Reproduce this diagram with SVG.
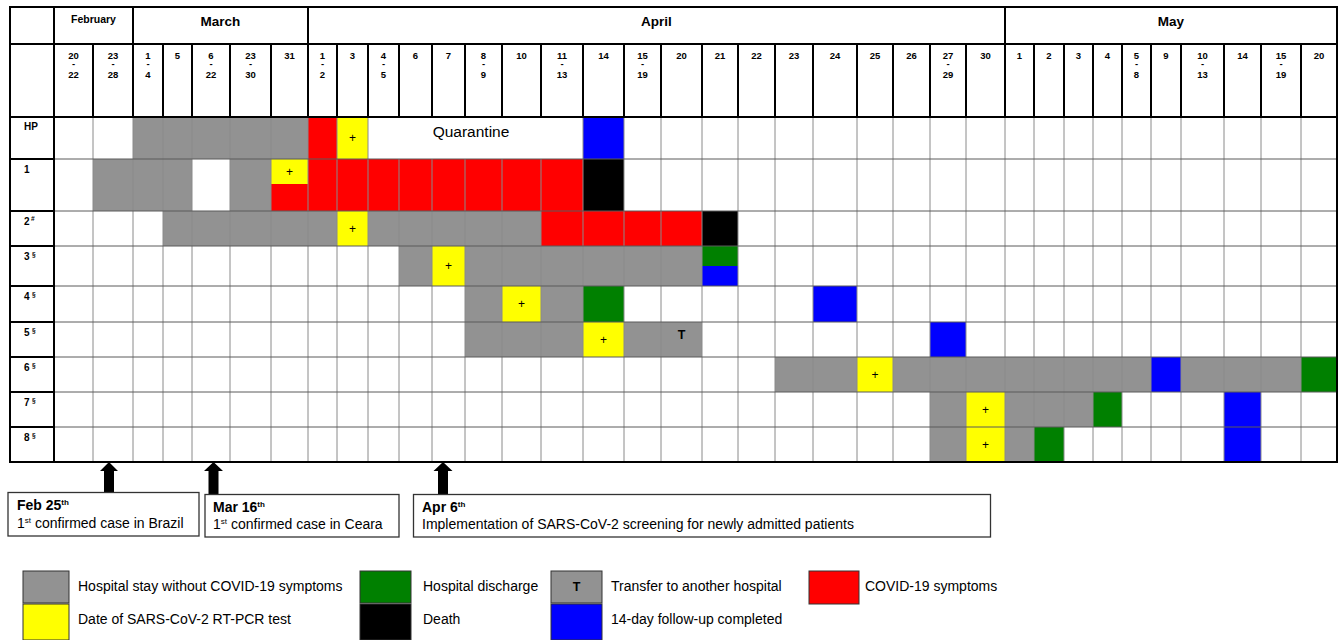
<svg xmlns="http://www.w3.org/2000/svg" width="1339" height="640" viewBox="0 0 1339 640">
<style>
text{font-family:'Liberation Sans',Arial,Helvetica,sans-serif;fill:#000}
.bd{font-weight:bold}
.mo{font-size:13.5px;text-anchor:middle;font-weight:bold}
.dt{font-size:9.5px;text-anchor:middle;font-weight:bold}
.rl{font-size:10px;font-weight:bold}
.sp{font-size:6.5px;font-weight:bold}
.pl{font-size:12px;text-anchor:middle}
.g{fill:#929292}.r{fill:#ff0000}.y{fill:#ffff00}.b{fill:#0000ff}.gr{fill:#008000}.k{fill:#000}
.vl{stroke:#8a8a8a;stroke-width:1;fill:none}
.hl{stroke:#5a5a5a;stroke-width:1;fill:none}
.tk{stroke:#000;stroke-width:2;fill:none}
.lg{font-size:14px}
.tb{font-size:14px;font-weight:bold}
.tn{font-size:14px}
.su{font-size:8px}
.bx{fill:#fff;stroke:#333;stroke-width:1.3}
.sw{stroke:#333;stroke-width:1}
.ar{fill:#000}
</style>
<rect x="0" y="0" width="1339" height="640" fill="#fff"/>

<g id="cells">
  <g id="row-HP">
    <rect class="g" x="133" y="117" width="175" height="42"/>
    <rect class="r" x="308" y="117" width="29" height="42"/>
    <rect class="y" x="337" y="117" width="31" height="42"/>
    <rect class="b" x="583" y="117" width="41" height="42"/>
  </g>
  <g id="row-1">
    <rect class="g" x="93" y="159" width="99" height="52"/>
    <rect class="g" x="230" y="159" width="41" height="52"/>
    <rect class="y" x="271" y="159" width="37" height="25"/>
    <rect class="r" x="271" y="184" width="37" height="27"/>
    <rect class="r" x="308" y="159" width="275" height="52"/>
    <rect class="k" x="583" y="159" width="41" height="52"/>
  </g>
  <g id="row-2">
    <rect class="g" x="163" y="211" width="174" height="35"/>
    <rect class="y" x="337" y="211" width="31" height="35"/>
    <rect class="g" x="368" y="211" width="173" height="35"/>
    <rect class="r" x="541" y="211" width="161" height="35"/>
    <rect class="k" x="702" y="211" width="36" height="35"/>
  </g>
  <g id="row-3">
    <rect class="g" x="399" y="246" width="33" height="40"/>
    <rect class="y" x="432" y="246" width="33" height="40"/>
    <rect class="g" x="465" y="246" width="237" height="40"/>
    <rect class="gr" x="702" y="246" width="36" height="20"/>
    <rect class="b" x="702" y="266" width="36" height="20"/>
  </g>
  <g id="row-4">
    <rect class="g" x="465" y="286" width="37" height="36"/>
    <rect class="y" x="502" y="286" width="39" height="36"/>
    <rect class="g" x="541" y="286" width="42" height="36"/>
    <rect class="gr" x="583" y="286" width="41" height="36"/>
    <rect class="b" x="813" y="286" width="44" height="36"/>
  </g>
  <g id="row-5">
    <rect class="g" x="465" y="322" width="118" height="35"/>
    <rect class="y" x="583" y="322" width="41" height="35"/>
    <rect class="g" x="624" y="322" width="78" height="35"/>
    <rect class="b" x="930" y="322" width="36" height="35"/>
  </g>
  <g id="row-6">
    <rect class="g" x="775" y="357" width="82" height="35"/>
    <rect class="y" x="857" y="357" width="36" height="35"/>
    <rect class="g" x="893" y="357" width="258" height="35"/>
    <rect class="b" x="1151" y="357" width="30" height="35"/>
    <rect class="g" x="1181" y="357" width="120" height="35"/>
    <rect class="gr" x="1301" y="357" width="36" height="35"/>
  </g>
  <g id="row-7">
    <rect class="g" x="930" y="392" width="36" height="35"/>
    <rect class="y" x="966" y="392" width="39" height="35"/>
    <rect class="g" x="1005" y="392" width="88" height="35"/>
    <rect class="gr" x="1093" y="392" width="29" height="35"/>
    <rect class="b" x="1224" y="392" width="37" height="35"/>
  </g>
  <g id="row-8">
    <rect class="g" x="930" y="427" width="36" height="35"/>
    <rect class="y" x="966" y="427" width="39" height="35"/>
    <rect class="g" x="1005" y="427" width="29" height="35"/>
    <rect class="gr" x="1034" y="427" width="30" height="35"/>
    <rect class="b" x="1224" y="427" width="37" height="35"/>
  </g>
</g>

<g id="grid">
  <path class="vl" d="M93 117V462M133 117V462M163 117V462M192 117V462M230 117V462M271 117V462M308 117V462M337 117V462M368 117V462M399 159V462M432 159V462M465 159V462M502 159V462M541 159V462M583 117V462M624 117V462M661 117V462M702 117V462M738 117V462M775 117V462M813 117V462M857 117V462M893 117V462M930 117V462M966 117V462M1005 117V462M1034 117V462M1064 117V462M1093 117V462M1122 117V462M1151 117V462M1181 117V462M1224 117V462M1261 117V462M1301 117V462"/>
  <path class="hl" d="M54 159H1337M54 211H1337M54 246H1337M54 286H1337M54 322H1337M54 357H1337M54 392H1337M54 427H1337"/>
  <path class="tk" d="M10 159H54M10 211H54M10 246H54M10 286H54M10 322H54M10 357H54M10 392H54M10 427H54"/>
  <path class="tk" d="M10 44H1337M10 117H1337M54 7V462M133 7V44M308 7V44M1005 7V44"/>
  <path class="tk" d="M93 44V117M133 44V117M163 44V117M192 44V117M230 44V117M271 44V117M308 44V117M337 44V117M368 44V117M399 44V117M432 44V117M465 44V117M502 44V117M541 44V117M583 44V117M624 44V117M661 44V117M702 44V117M738 44V117M775 44V117M813 44V117M857 44V117M893 44V117M930 44V117M966 44V117M1005 44V117M1034 44V117M1064 44V117M1093 44V117M1122 44V117M1151 44V117M1181 44V117M1224 44V117M1261 44V117M1301 44V117"/>
  <rect class="tk" x="10" y="7" width="1327" height="455"/>
</g>

<g id="months">
  <text class="bd" x="93.5" y="22.5" font-size="10.5" text-anchor="middle">February</text>
  <text class="mo" x="220.5" y="26">March</text>
  <text class="mo" x="656.5" y="26">April</text>
  <text class="mo" x="1171" y="26">May</text>
</g>

<g id="dates">
  <text class="dt" x="73.5" y="58.5">20<tspan x="73.5" y="67">-</tspan><tspan x="73.5" y="77.5">22</tspan></text>
  <text class="dt" x="113" y="58.5">23<tspan x="113" y="67">-</tspan><tspan x="113" y="77.5">28</tspan></text>
  <text class="dt" x="148" y="58.5">1<tspan x="148" y="67">-</tspan><tspan x="148" y="77.5">4</tspan></text>
  <text class="dt" x="177.5" y="58.5">5</text>
  <text class="dt" x="211" y="58.5">6<tspan x="211" y="67">-</tspan><tspan x="211" y="77.5">22</tspan></text>
  <text class="dt" x="250.5" y="58.5">23<tspan x="250.5" y="67">-</tspan><tspan x="250.5" y="77.5">30</tspan></text>
  <text class="dt" x="289.5" y="58.5">31</text>
  <text class="dt" x="322.5" y="58.5">1<tspan x="322.5" y="67">-</tspan><tspan x="322.5" y="77.5">2</tspan></text>
  <text class="dt" x="352.5" y="58.5">3</text>
  <text class="dt" x="383.5" y="58.5">4<tspan x="383.5" y="67">-</tspan><tspan x="383.5" y="77.5">5</tspan></text>
  <text class="dt" x="415.5" y="58.5">6</text>
  <text class="dt" x="448.5" y="58.5">7</text>
  <text class="dt" x="483.5" y="58.5">8<tspan x="483.5" y="67">-</tspan><tspan x="483.5" y="77.5">9</tspan></text>
  <text class="dt" x="521.5" y="58.5">10</text>
  <text class="dt" x="562" y="58.5">11<tspan x="562" y="67">-</tspan><tspan x="562" y="77.5">13</tspan></text>
  <text class="dt" x="603.5" y="58.5">14</text>
  <text class="dt" x="642.5" y="58.5">15<tspan x="642.5" y="67">-</tspan><tspan x="642.5" y="77.5">19</tspan></text>
  <text class="dt" x="681.5" y="58.5">20</text>
  <text class="dt" x="720" y="58.5">21</text>
  <text class="dt" x="756.5" y="58.5">22</text>
  <text class="dt" x="794" y="58.5">23</text>
  <text class="dt" x="835" y="58.5">24</text>
  <text class="dt" x="875" y="58.5">25</text>
  <text class="dt" x="911.5" y="58.5">26</text>
  <text class="dt" x="948" y="58.5">27<tspan x="948" y="67">-</tspan><tspan x="948" y="77.5">29</tspan></text>
  <text class="dt" x="985.5" y="58.5">30</text>
  <text class="dt" x="1019.5" y="58.5">1</text>
  <text class="dt" x="1049" y="58.5">2</text>
  <text class="dt" x="1078.5" y="58.5">3</text>
  <text class="dt" x="1107.5" y="58.5">4</text>
  <text class="dt" x="1136.5" y="58.5">5<tspan x="1136.5" y="67">-</tspan><tspan x="1136.5" y="77.5">8</tspan></text>
  <text class="dt" x="1166" y="58.5">9</text>
  <text class="dt" x="1202.5" y="58.5">10<tspan x="1202.5" y="67">-</tspan><tspan x="1202.5" y="77.5">13</tspan></text>
  <text class="dt" x="1242.5" y="58.5">14</text>
  <text class="dt" x="1281" y="58.5">15<tspan x="1281" y="67">-</tspan><tspan x="1281" y="77.5">19</tspan></text>
  <text class="dt" x="1319" y="58.5">20</text>
</g>

<g id="row-labels">
  <text class="rl" x="24" y="130">HP</text>
  <text class="rl" x="24" y="173">1</text>
  <text class="rl" x="24" y="225">2</text><text class="sp" x="31" y="221">#</text>
  <text class="rl" x="24" y="260">3</text><text class="sp" x="32" y="257">§</text>
  <text class="rl" x="24" y="300">4</text><text class="sp" x="32" y="297">§</text>
  <text class="rl" x="24" y="336">5</text><text class="sp" x="32" y="333">§</text>
  <text class="rl" x="24" y="371">6</text><text class="sp" x="32" y="368">§</text>
  <text class="rl" x="24" y="406">7</text><text class="sp" x="32" y="403">§</text>
  <text class="rl" x="24" y="441">8</text><text class="sp" x="32" y="438">§</text>
</g>

<g id="marks">
  <text class="pl" x="352.5" y="142">+</text>
  <text class="pl" x="289.5" y="176">+</text>
  <text class="pl" x="352.5" y="232.5">+</text>
  <text class="pl" x="448.5" y="270">+</text>
  <text class="pl" x="521.5" y="308">+</text>
  <text class="pl" x="603.5" y="343.5">+</text>
  <text class="pl" x="875" y="378.5">+</text>
  <text class="pl" x="985.5" y="413.5">+</text>
  <text class="pl" x="985.5" y="448.5">+</text>
  <text class="bd" x="681.5" y="339" font-size="12.5" text-anchor="middle">T</text>
  <text x="471" y="136.5" font-size="15.5" text-anchor="middle">Quarantine</text>
</g>

<g id="connectors">
  <polygon class="ar" points="109,462 118,471 114,471 114,492 104,492 104,471 100,471"/>
  <polygon class="ar" points="213.5,462 223,471 218.5,471 218.5,494 208.5,494 208.5,471 204,471"/>
  <polygon class="ar" points="443,462 452.5,471 448,471 448,494 438,494 438,471 433.5,471"/>
</g>

<g id="event-feb25">
  <rect class="bx" x="8" y="492.5" width="191" height="43.5"/>
  <text class="tb" x="17" y="510">Feb 25<tspan class="su" dy="-5">th</tspan></text>
  <text class="tn" x="17" y="528">1<tspan class="su" dy="-5">st</tspan><tspan dy="5"> confirmed case in Brazil</tspan></text>
</g>
<g id="event-mar16">
  <rect class="bx" x="205" y="494.5" width="194" height="42.5"/>
  <text class="tb" x="213" y="511.5">Mar 16<tspan class="su" dy="-5">th</tspan></text>
  <text class="tn" x="213" y="529">1<tspan class="su" dy="-5">st</tspan><tspan dy="5"> confirmed case in Ceara</tspan></text>
</g>
<g id="event-apr6">
  <rect class="bx" x="413.5" y="494.5" width="577" height="42.5"/>
  <text class="tb" x="422" y="511.5">Apr 6<tspan class="su" dy="-5">th</tspan></text>
  <text class="tn" x="422" y="529">Implementation of SARS-CoV-2 screening for newly admitted patients</text>
</g>

<g id="legend">
  <rect class="g sw" x="23" y="571" width="46" height="32"/>
  <rect class="y sw" x="23" y="604" width="46" height="36"/>
  <text class="lg" x="78" y="591">Hospital stay without COVID-19 symptoms</text>
  <text class="lg" x="78" y="624">Date of SARS-CoV-2 RT-PCR test</text>
  <rect class="gr sw" x="360" y="571" width="51" height="32"/>
  <rect class="k sw" x="360" y="604" width="51" height="36"/>
  <text class="lg" x="423" y="591">Hospital discharge</text>
  <text class="lg" x="423" y="624">Death</text>
  <rect class="g sw" x="551" y="571" width="51" height="32"/>
  <text class="bd" x="576.5" y="591" font-size="12.5" text-anchor="middle">T</text>
  <rect class="b sw" x="551" y="604" width="51" height="36"/>
  <text class="lg" x="611" y="591">Transfer to another hospital</text>
  <text class="lg" x="611" y="624">14-day follow-up completed</text>
  <rect class="r sw" x="809" y="571" width="50" height="33"/>
  <text class="lg" x="865" y="591">COVID-19 symptoms</text>
</g>
</svg>
